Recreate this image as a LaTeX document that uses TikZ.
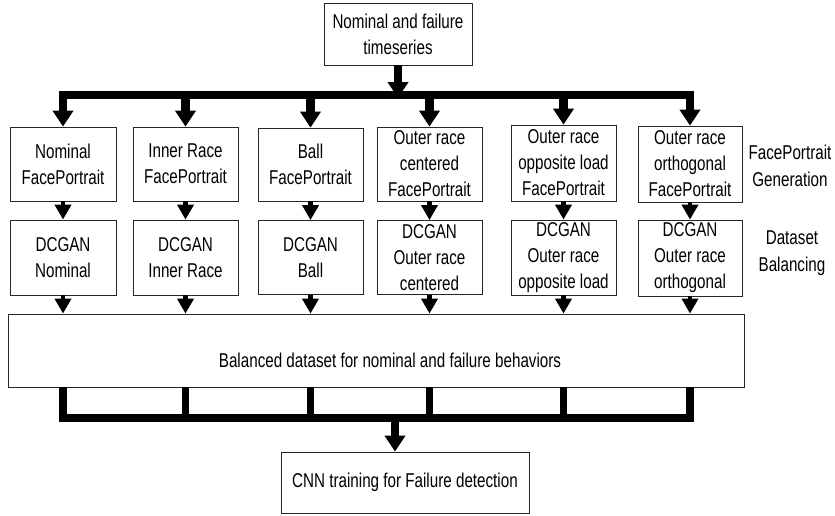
\documentclass[tikz,border=0pt]{standalone}
\usepackage{fontspec}
\setmainfont{Liberation Sans}[FakeStretch=0.76]
\usetikzlibrary{positioning,arrows.meta}

\begin{document}
\begin{tikzpicture}[x=1pt,y=-1pt,
  blockbox/.style={draw=black!85, line width=0.8, align=center, inner sep=0pt,
    font=\fontsize{20}{26}\selectfont},
  sidelabel/.style={align=center, font=\fontsize{20}{27}\selectfont},
  busline/.style={line width=7.5, line cap=rect},
  stubline/.style={line width=7.5},
  fatarrow/.style={line width=8.5, -{Triangle[width=20pt,length=16pt]}},
  thinarrow/.style={line width=4.5, -{Triangle[width=16pt,length=15pt]}}]
\useasboundingbox (0,0) rectangle (835,515);

\node[blockbox, minimum width=148, minimum height=62] (src) at (398,34) {Nominal and failure\\timeseries};

\node[blockbox, minimum width=106, minimum height=74] (fpa) at (63,164) {Nominal\\FacePortrait};
\node[blockbox, minimum width=105, minimum height=74] (fpb) at (185.5,164) {Inner Race\\FacePortrait};
\node[blockbox, minimum width=105, minimum height=73] (fpc) at (310.5,164.5) {Ball\\FacePortrait};
\node[blockbox, minimum width=105, minimum height=74] (fpd) at (429.5,164) {Outer race\\centered\\FacePortrait};
\node[blockbox, minimum width=105, minimum height=76] (fpe) at (563.5,163) {Outer race\\opposite load\\FacePortrait};
\node[blockbox, minimum width=104, minimum height=76] (fpf) at (690,164) {Outer race\\orthogonal\\FacePortrait};

\node[blockbox, minimum width=106, minimum height=75] (gna) at (63,257.5) {DCGAN\\Nominal};
\node[blockbox, minimum width=105, minimum height=75] (gnb) at (185.5,257.5) {DCGAN\\Inner Race};
\node[blockbox, minimum width=105, minimum height=74] (gnc) at (310.5,257.5) {DCGAN\\Ball};
\node[blockbox, minimum width=105, minimum height=74] (gnd) at (429.5,257.5) {DCGAN\\Outer race\\centered};
\node[blockbox, minimum width=105, minimum height=75] (gne) at (563.5,257.5) {DCGAN\\Outer race\\opposite load};
\node[blockbox, minimum width=104, minimum height=76] (gnf) at (690,258) {DCGAN\\Outer race\\orthogonal};

\node[blockbox, minimum width=736, minimum height=73, text height=33pt, text depth=0pt] (bal) at (376,350.5) {\hspace*{28pt}Balanced dataset for nominal and failure behaviors};
\node[blockbox, minimum width=248, minimum height=61] (cnn) at (405,482.5) {CNN training for Failure detection};

\node[sidelabel] (lgen) at (790,166) {FacePortrait\\Generation};
\node[sidelabel] (lbal) at (792,253) {Dataset\\Balancing};

\coordinate (tb) at (0,95);
\coordinate (bb) at (0,418);
\coordinate (bj) at (395,418);

\draw[busline] (fpa.north |- tb) -- (fpf.north |- tb);
\draw[fatarrow] (src.south) -- ([yshift=-3]src.south |- tb);
\foreach \n in {fpa,fpb,fpc,fpd,fpe,fpf}
  \draw[fatarrow] (\n.north |- tb) -- (\n.north);

\draw[thinarrow] (fpa) -- (gna);
\draw[thinarrow] (fpb) -- (gnb);
\draw[thinarrow] (fpc) -- (gnc);
\draw[thinarrow] (fpd) -- (gnd);
\draw[thinarrow] (fpe) -- (gne);
\draw[thinarrow] (fpf) -- (gnf);

\foreach \n in {gna,gnb,gnc,gnd,gne,gnf}
  \draw[thinarrow] (\n.south) -- (\n.south |- bal.north);

\foreach \n in {gna,gnb,gnc,gnd,gne,gnf}
  \draw[stubline] (\n.south |- bal.south) -- (\n.south |- bb);
\draw[busline] (gna.south |- bb) -- (gnf.south |- bb);
\draw[fatarrow] (bj) -- (bj |- cnn.north);
\end{tikzpicture}
\end{document}
